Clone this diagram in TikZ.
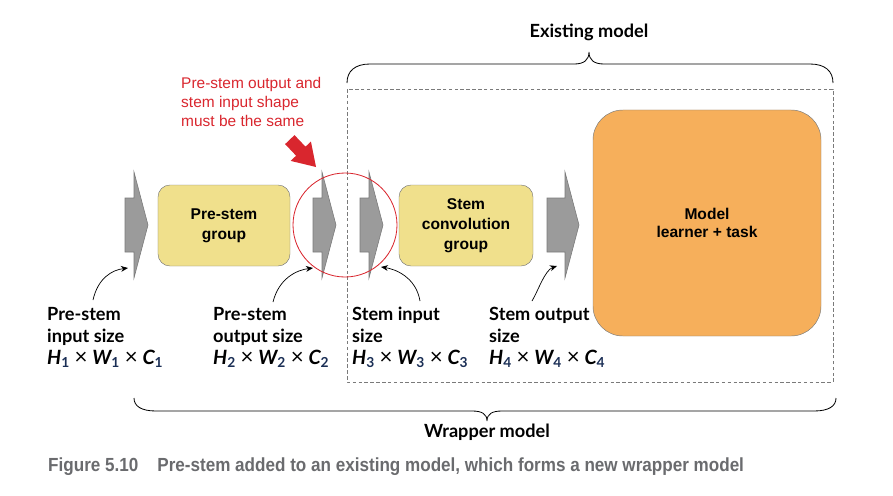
\documentclass[tikz,border=0pt]{standalone}
\usepackage{fontspec}
\setmainfont{Liberation Sans}
\newfontfamily\lblfont{Lato}
\newfontfamily\capfont[FakeStretch=0.9]{Liberation Sans}
\usetikzlibrary{arrows.meta}

\definecolor{boxyellow}{HTML}{F0E08C}
\definecolor{modelorange}{HTML}{F6AF5B}
\definecolor{boxedge}{HTML}{7A7A7A}
\definecolor{arrowgray}{HTML}{9B9B9B}
\definecolor{notered}{HTML}{D9262E}
\definecolor{subblue}{HTML}{1A2E55}
\definecolor{capgray}{HTML}{6A6B6E}

\newcommand{\subidx}[1]{\textsubscript{\color{subblue}#1}}
\newcommand{\crossx}{\ {\fontsize{19}{19}\selectfont\mdseries ×}\ }
\newcommand{\shapedims}[1]{{\fontsize{16.8}{18.7}\selectfont{\itshape H}\subidx{#1}\crossx{\itshape W}\subidx{#1}\crossx{\itshape C}\subidx{#1}}}

\tikzset{
    groupbox/.style={draw=boxedge, fill=boxyellow, rounded corners=0.36cm,
        minimum width=3.96cm, minimum height=2.43cm, align=center,
        font=\bfseries\fontsize{13.3}{17}\selectfont},
    modelbox/.style={draw=boxedge, fill=modelorange, rounded corners=0.9cm,
        minimum width=6.84cm, minimum height=6.78cm, align=center,
        font=\bfseries\fontsize{13.3}{16}\selectfont},
    sizelabel/.style={anchor=north west, align=left, inner sep=0pt,
        font=\lblfont\bfseries\fontsize{15.5}{18.7}\selectfont},
    bracelabel/.style={font=\lblfont\bfseries\fontsize{15.5}{18}\selectfont},
    curvearrow/.style={-{Stealth[length=6pt,width=5pt]}, line width=0.6pt},
    shapearrow/.style={draw=boxedge, fill=arrowgray, line width=0.5pt}
}

\begin{document}
\begin{tikzpicture}[x=0.03cm, y=-0.03cm]
    \useasboundingbox (0,0) rectangle (893,495);

    % existing model frame
    \draw[boxedge, dashed, dash pattern=on 3pt off 2pt, line width=0.5pt]
        (347,89) rectangle (833,382);

    % blocks
    \node[groupbox] (prestem) at (224,225.5) {Pre-stem\\group};
    \node[groupbox, minimum width=4.02cm] (stem) at (466,225.5) {Stem\\convolution\\group};
    \node[modelbox] (model) at (707,223) {Model\\learner + task};

    % tensor shapes
    \foreach \l/\s/\t in {125/134/148, 313/322/336, 360/369/383, 547/565/579}
        \draw[shapearrow] (\l,198) -- (\s,198) -- (\s,172) -- (\t,225)
            -- (\s,278) -- (\s,252) -- (\l,252) -- cycle;

    % shape check
    \draw[notered, line width=0.7pt] (345,225) circle (52);
    \node[anchor=north west, align=left, inner sep=0pt, text=notered,
        font=\fontsize{13.2}{16.2}\selectfont] (note) at (181,77)
        {Pre-stem output and\\stem input shape\\must be the same};
    \fill[notered] (316,167) -- (310.9,141.5) -- (305.5,146.7) -- (294.5,135.1)
        -- (285.1,144.1) -- (296.1,155.7) -- (290.7,160.9) -- cycle;

    % size labels
    \node[sizelabel] (prein) at (47,307) {Pre-stem\\input size\\\shapedims{1}};
    \node[sizelabel] (preout) at (213,307) {Pre-stem\\output size\\\shapedims{2}};
    \node[sizelabel] (stemin) at (352,307) {Stem input\\size\\\shapedims{3}};
    \node[sizelabel] (stemout) at (489,307) {Stem output\\size\\\shapedims{4}};

    \coordinate (c1s) at (93,300);  \coordinate (c1e) at (128,268);
    \coordinate (c2s) at (273,302); \coordinate (c2e) at (313,268);
    \coordinate (c3s) at (420,301); \coordinate (c3e) at (381,267);
    \coordinate (c4s) at (532,301); \coordinate (c4e) at (557,266);
    \draw[curvearrow] (c1s) .. controls +(5,-22) and +(-16,2) .. (c1e);
    \draw[curvearrow] (c2s) .. controls +(6,-24) and +(-16,2) .. (c2e);
    \draw[curvearrow] (c3s) .. controls +(-4,-24) and +(14,2) .. (c3e);
    \draw[curvearrow] (c4s) .. controls +(6,-10) and +(-12,4) .. (c4e);

    % braces
    \draw[line width=0.7pt] (347,83) .. controls (347,71) and (355,64) .. (370,64)
        -- (574,64) .. controls (584,64) and (589,60) .. (589,52)
        .. controls (589,60) and (594,64) .. (604,64) -- (810,64)
        .. controls (825,64) and (833,71) .. (833,83);
    \node[bracelabel] (existing) at (589,32) {Existing model};

    \draw[line width=0.7pt] (134,398) .. controls (134,406) and (141,411) .. (156,411)
        -- (472,411) .. controls (482,411) and (487,414) .. (487,421)
        .. controls (487,414) and (492,411) .. (502,411) -- (814,411)
        .. controls (829,411) and (836,406) .. (836,398);
    \node[bracelabel] (wrapper) at (487,432) {Wrapper model};

    % caption
    \node[anchor=west, inner sep=0pt, text=capgray,
        font=\capfont\bfseries\fontsize{16.2}{18}\selectfont] (caption) at (48,467)
        {Figure 5.10\hspace{1.0em}Pre-stem added to an existing model, which forms a new wrapper model};
\end{tikzpicture}
\end{document}
